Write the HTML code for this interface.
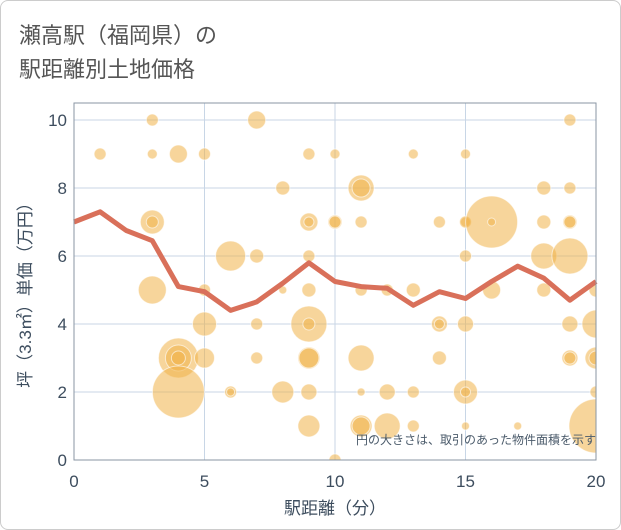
<!DOCTYPE html>
<html><head><meta charset="utf-8"><style>
body{margin:0;background:#fff;font-family:"Liberation Sans","Noto Sans CJK JP",sans-serif;}
#wrap{position:relative;width:619px;height:528px;border:1px solid #ccc;border-radius:8px;overflow:hidden;}
</style></head><body>
<div id="wrap">
<svg id="chart" width="621" height="530">
<text x="18" y="42" font-size="22" fill="#555">瀬高駅（福岡県）の</text>
<text x="18" y="76" font-size="22" fill="#555">駅距離別土地価格</text>
<defs><clipPath id="pc"><rect x="73" y="102" width="522" height="357"/></clipPath></defs>
<g id="grid"></g>
<g id="bubbles" clip-path="url(#pc)"></g>
<g id="line"></g>
<rect x="73" y="102" width="522" height="357" fill="none" stroke="#8a96a3" stroke-width="1"/>
<text x="595" y="443" font-size="12" fill="#4a5a6a" text-anchor="end">円の大きさは、取引のあった物件面積を示す</text>
<text x="334" y="513" font-size="17" fill="#3d4d5e" text-anchor="middle">駅距離（分）</text>
<text transform="translate(30,290) rotate(-90)" font-size="17" fill="#3d4d5e" text-anchor="middle">坪（3.3㎡）単価（万円）</text>
</svg>
</div>
<script>
const xTicks=[0,5,10,15,20];
const yTicks=[0,2,4,6,8,10];
const lineX=[0,1,2,3,4,5,6,7,8,9,10,11,12,13,14,15,16,17,18,19,20];
const lineY=[7.0,7.3,6.75,6.45,5.1,4.95,4.4,4.65,5.2,5.8,5.25,5.1,5.05,4.55,4.95,4.75,5.25,5.7,5.35,4.7,5.25];
const bubX=[1,3,3,4,5,7,9,10,13,15,19,8,11,11,18,19,3,3,9,9,10,10,11,14,15,15,16,16,18,19,19,6,7,9,15,18,19,3,5,8,9,11,12,13,16,18,20,5,7,9,9,14,14,15,19,20,4,4,4,5,7,9,9,11,14,19,19,20,20,4,6,6,8,9,11,12,13,15,15,20,9,11,11,12,13,15,17,20,10];
const bubY=[9,10,9,9,9,10,9,9,9,9,10,8,8,8,8,8,7,7,7,7,7,7,7,7,7,7,7,7,7,7,7,6,6,6,6,6,6,5,5,5,5,5,5,5,5,5,5,4,4,4,4,4,4,4,4,4,3,3,3,3,3,3,3,3,3,3,3,3,3,2,2,2,2,2,2,2,2,2,2,2,1,1,1,1,1,1,1,1,0];
const bubR=[6,6,5,9,6,9,6,5,5,5,6,7,13,9,7,6,12,6,9,5,7,6,6,6,5,6,26,4,7,7,6,15,7,6,6,13,18,14,6,4,7,6,6,7,9,7,7,12,6,18,6,8,5,8,8,14,20,13,7,10,6,11,10,13,7,8,6,11,7,26,6,4,11,8,4,8,6,12,5,6,11,11,9,13,6,4,4,27,6];
const X=v=>73+v*26.1, Y=v=>459-v*34;
const NS="http://www.w3.org/2000/svg";
const g=document.getElementById('grid');
xTicks.forEach(t=>{
 const l=document.createElementNS(NS,'line');
 l.setAttribute('x1',X(t));l.setAttribute('x2',X(t));l.setAttribute('y1',102);l.setAttribute('y2',459);
 l.setAttribute('stroke','#c8d6e6');
 
 
 g.appendChild(l);
 const tx=document.createElementNS(NS,'text');
 tx.setAttribute('x',X(t));tx.setAttribute('y',486);tx.setAttribute('font-size','17');tx.setAttribute('fill','#3d4d5e');tx.setAttribute('text-anchor','middle');
 tx.textContent=t;
 
 
 g.appendChild(tx);
});
yTicks.forEach(t=>{
 const l=document.createElementNS(NS,'line');
 l.setAttribute('x1',73);l.setAttribute('x2',595);l.setAttribute('y1',Y(t));l.setAttribute('y2',Y(t));
 l.setAttribute('stroke','#c8d6e6');
 
 
 g.appendChild(l);
 const tx=document.createElementNS(NS,'text');
 tx.setAttribute('x',66);tx.setAttribute('y',Y(t)+6);tx.setAttribute('font-size','17');tx.setAttribute('fill','#3d4d5e');tx.setAttribute('text-anchor','end');
 tx.textContent=t;
 
 
 g.appendChild(tx);
});
const b=document.getElementById('bubbles');
bubX.forEach((x,i)=>{
 const c=document.createElementNS(NS,'circle');
 c.setAttribute('cx',X(x));c.setAttribute('cy',Y(bubY[i]));c.setAttribute('r',bubR[i]);
 c.setAttribute('fill','rgba(240,178,72,0.55)');c.setAttribute('stroke','rgba(255,255,255,0.6)');c.setAttribute('stroke-width','1');
 
 
 b.appendChild(c);
});
const p=document.createElementNS(NS,'polyline');
p.setAttribute('points',lineX.map((x,i)=>X(x)+','+Y(lineY[i])).join(' '));
p.setAttribute('fill','none');p.setAttribute('stroke','#d9705a');p.setAttribute('stroke-width','5');p.setAttribute('stroke-linejoin','round');


document.getElementById('line').appendChild(p);
</script>
</body></html>
